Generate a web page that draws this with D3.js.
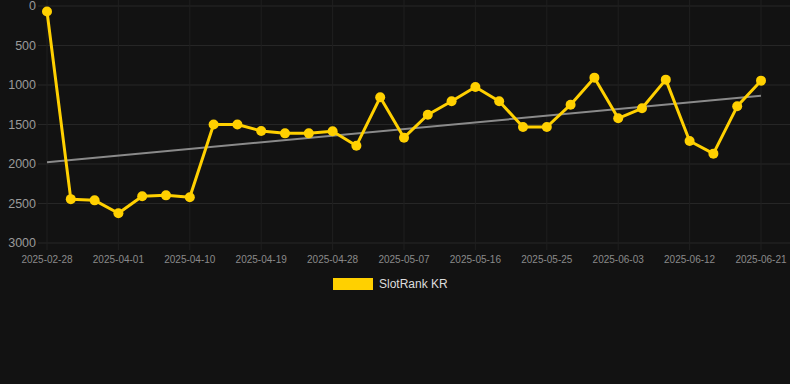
<!DOCTYPE html>
<html>
<head>
<meta charset="utf-8">
<script src="https://cdn.jsdelivr.net/npm/d3@7.9.0/dist/d3.min.js"></script>
<style>
  html, body { margin: 0; padding: 0; background: #121212; }
  svg { display: block; font-family: "Liberation Sans", Arial, sans-serif; }
</style>
</head>
<body>
<svg id="chart" width="790" height="384"></svg>
<script>
// dates (category axis), every third one is labelled
const dates = [
  '2025-02-28', '2025-03-26', '2025-03-29', '2025-04-01', '2025-04-04', '2025-04-07',
  '2025-04-10', '2025-04-13', '2025-04-16', '2025-04-19', '2025-04-22', '2025-04-25',
  '2025-04-28', '2025-05-01', '2025-05-04', '2025-05-07', '2025-05-10', '2025-05-13',
  '2025-05-16', '2025-05-19', '2025-05-22', '2025-05-25', '2025-05-28', '2025-05-31',
  '2025-06-03', '2025-06-06', '2025-06-09', '2025-06-12', '2025-06-15', '2025-06-18',
  '2025-06-21'
];
const ranks = [
  70, 2445, 2460, 2624, 2409, 2397, 2422, 1500, 1500, 1582, 1612, 1612, 1586, 1768,
  1156, 1667, 1376, 1206, 1025, 1206, 1532, 1532, 1249, 907, 1422, 1295, 932, 1709,
  1869, 1270, 945
];
const yTicks = [0, 500, 1000, 1500, 2000, 2500, 3000];
const seriesName = 'SlotRank KR';

const svg = d3.select('#chart');
const plotLeft = 47, plotRight = 761, plotTop = 6, plotBottom = 243;

const x = d3.scalePoint().domain(dates).range([plotLeft, plotRight]);
const y = d3.scaleLinear().domain([0, 3000]).range([plotTop, plotBottom]);

// grid
svg.append('g')
  .selectAll('line')
  .data(yTicks)
  .join('line')
  .attr('x1', 38).attr('x2', 790)
  .attr('y1', (d) => y(d)).attr('y2', (d) => y(d))
  .attr('stroke', '#262626').attr('stroke-width', 1);

const labelled = dates.filter((d, i) => i % 3 === 0);

svg.append('g')
  .selectAll('line')
  .data(labelled)
  .join('line')
  .attr('x1', (d) => x(d)).attr('x2', (d) => x(d))
  .attr('y1', 0).attr('y2', 250)
  .attr('stroke', '#1f1f1f').attr('stroke-width', 1);

// y labels
svg.append('g')
  .selectAll('text')
  .data(yTicks)
  .join('text')
  .attr('x', 36)
  .attr('y', (d) => y(d))
  .attr('dy', '0.35em')
  .attr('text-anchor', 'end')
  .attr('fill', '#9a9a9a')
  .attr('font-size', 12.5)
  .text((d) => d);

// x labels
svg.append('g')
  .selectAll('text')
  .data(labelled)
  .join('text')
  .attr('x', (d) => x(d))
  .attr('y', 263)
  .attr('text-anchor', 'middle')
  .attr('fill', '#8a8a8a')
  .attr('font-size', 10)
  .text((d) => d);

// trend line (least squares over index)
const n = ranks.length;
const xs = d3.range(n);
const mx = d3.mean(xs), my = d3.mean(ranks);
const slope = d3.sum(xs, (i) => (i - mx) * (ranks[i] - my)) / d3.sum(xs, (i) => (i - mx) ** 2);
const icpt = my - slope * mx;

svg.append('line')
  .attr('x1', x(dates[0])).attr('y1', y(icpt))
  .attr('x2', x(dates[n - 1])).attr('y2', y(icpt + slope * (n - 1)))
  .attr('stroke', '#8a8a8a').attr('stroke-width', 2);

// series
const line = d3.line()
  .x((d, i) => x(dates[i]))
  .y((d) => y(d));

svg.append('path')
  .datum(ranks)
  .attr('d', line)
  .attr('fill', 'none')
  .attr('stroke', '#FFD000')
  .attr('stroke-width', 3)
  .attr('stroke-linejoin', 'round');

svg.append('g')
  .selectAll('circle')
  .data(ranks)
  .join('circle')
  .attr('cx', (d, i) => x(dates[i]))
  .attr('cy', (d) => y(d))
  .attr('r', 5)
  .attr('fill', '#FFD000');

// legend
svg.append('rect')
  .attr('x', 333).attr('y', 278)
  .attr('width', 40).attr('height', 12)
  .attr('fill', '#FFD000');

svg.append('text')
  .attr('x', 379).attr('y', 284)
  .attr('dy', '0.35em')
  .attr('fill', '#dddddd')
  .attr('font-size', 12)
  .text(seriesName);
</script>
</body>
</html>
